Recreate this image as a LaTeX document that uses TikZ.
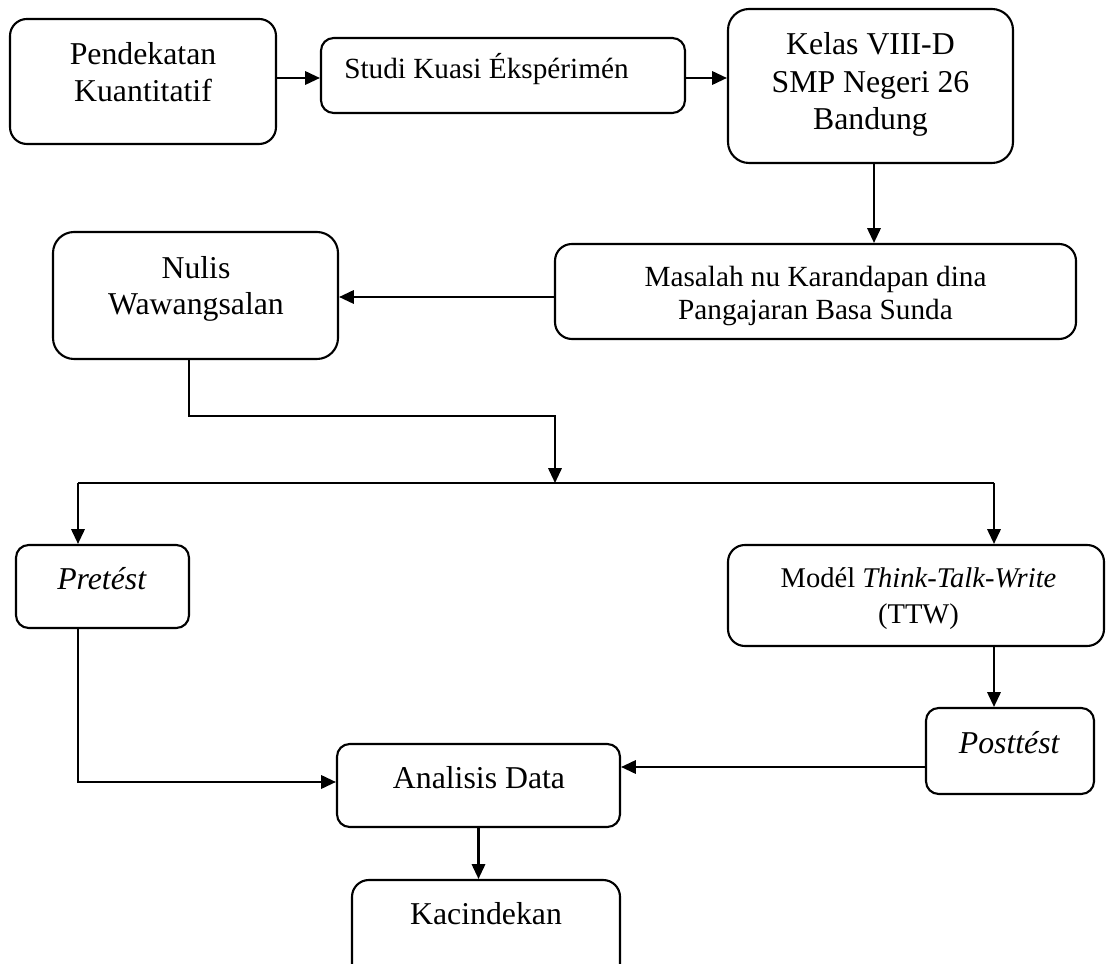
\documentclass[tikz,border=0pt]{standalone}
\usepackage{fontspec}
\setmainfont{Liberation Serif}
\usetikzlibrary{arrows.meta}

\tikzset{
    kotak/.style = {draw, line width=1.5pt, rounded corners=12pt, inner sep=0pt},
    panah/.style = {-{Triangle[length=10.5pt,width=9.5pt]}, line width=1.5pt},
    garis/.style = {line width=1.5pt},
    teks/.style  = {anchor=base, align=center, inner sep=0pt},
}

\begin{document}
\begin{tikzpicture}[x=0.025cm, y=-0.025cm]
    \useasboundingbox (0,0) rectangle (1106,964);

    % kotak-kotak
    \node(b1) [kotak, minimum width=266*0.025cm, minimum height=125*0.025cm] at (143,81.5) {};
    \node(b2) [kotak, rounded corners=9pt, minimum width=364*0.025cm, minimum height=75*0.025cm] at (503,75.5) {};
    \node(b3) [kotak, rounded corners=15pt, minimum width=285*0.025cm, minimum height=154*0.025cm] at (870.5,86) {};
    \node(b4) [kotak, minimum width=521*0.025cm, minimum height=95*0.025cm] at (815.5,291.5) {};
    \node(b5) [kotak, rounded corners=15pt, minimum width=285*0.025cm, minimum height=127*0.025cm] at (195.5,295.5) {};
    \node(b6) [kotak, rounded corners=9pt, minimum width=173*0.025cm, minimum height=83*0.025cm] at (102.5,586.5) {};
    \node(b7) [kotak, minimum width=376*0.025cm, minimum height=101*0.025cm] at (916,595.5) {};
    \node(b8) [kotak, rounded corners=9pt, minimum width=168*0.025cm, minimum height=86*0.025cm] at (1010,751) {};
    \node(b9) [kotak, rounded corners=9pt, minimum width=283*0.025cm, minimum height=83*0.025cm] at (478.5,785.5) {};
    \node(b10) [kotak, minimum width=268*0.025cm, minimum height=120*0.025cm] at (486,940) {};

    % tulisan (base = garis terakhir)
    \node(t1) [teks, font=\fontsize{22.6}{27}\selectfont] at (143,102) {Pendekatan\\Kuantitatif};
    \node(t2) [teks, anchor=base west, font=\fontsize{20.8}{24}\selectfont] at (344,79) {Studi Kuasi Ékspérimén};
    \node(t3) [teks, font=\fontsize{22.6}{26.7}\selectfont] at (870.5,130) {Kelas VIII-D\\SMP Negeri 26\\Bandung};
    \node(t4) [teks, font=\fontsize{20.8}{23.5}\selectfont] at (815.5,320) {Masalah nu Karandapan dina\\Pangajaran Basa Sunda};
    \node(t5) [teks, font=\fontsize{22.6}{26.3}\selectfont] at (196,315) {Nulis\\Wawangsalan};
    \node(t6) [teks, font=\fontsize{22.6}{27}\selectfont] at (102,589) {\textit{Pretést}};
    \node(t7) [teks, font=\fontsize{20.3}{25.6}\selectfont] at (918.5,623) {Modél \textit{Think-Talk-Write}\\(TTW)};
    \node(t8) [teks, font=\fontsize{22.6}{27}\selectfont] at (1009.5,753) {\textit{Posttést}};
    \node(t9) [teks, font=\fontsize{22.6}{27}\selectfont] at (479,788) {Analisis Data};
    \node(t10) [teks, font=\fontsize{22.6}{27}\selectfont] at (486,924) {Kacindekan};

    % titik belok
    \coordinate(belok) at (555,416);
    \coordinate(cabang) at (555,483);
    \coordinate(kiri) at (78,483);
    \coordinate(katuhu) at (994,483);

    % panah
    \draw[panah] (b1.east |- 0,78) -- (b2.west |- 0,78);
    \draw[panah] (b2.east |- 0,78) -- (b3.west |- 0,78);
    \draw[panah] (874,0 |- b3.south) -- (874,0 |- b4.north);
    \draw[panah] (b4.west |- 0,297) -- (b5.east |- 0,297);
    \draw[panah] (189,0 |- b5.south) |- (belok) -- (cabang);
    \draw[garis] (kiri) -- (katuhu);
    \draw[panah] (kiri) -- (kiri |- b6.north);
    \draw[panah] (katuhu) -- (katuhu |- b7.north);
    \draw[panah] (katuhu |- b7.south) -- (katuhu |- b8.north);
    \draw[panah] (b8.west |- 0,767) -- (b9.east |- 0,767);
    \draw[panah] (kiri |- b6.south) |- (b9.west |- 0,782);
    \draw[panah] (b9.south) -- (b9.south |- b10.north);
\end{tikzpicture}
\end{document}
